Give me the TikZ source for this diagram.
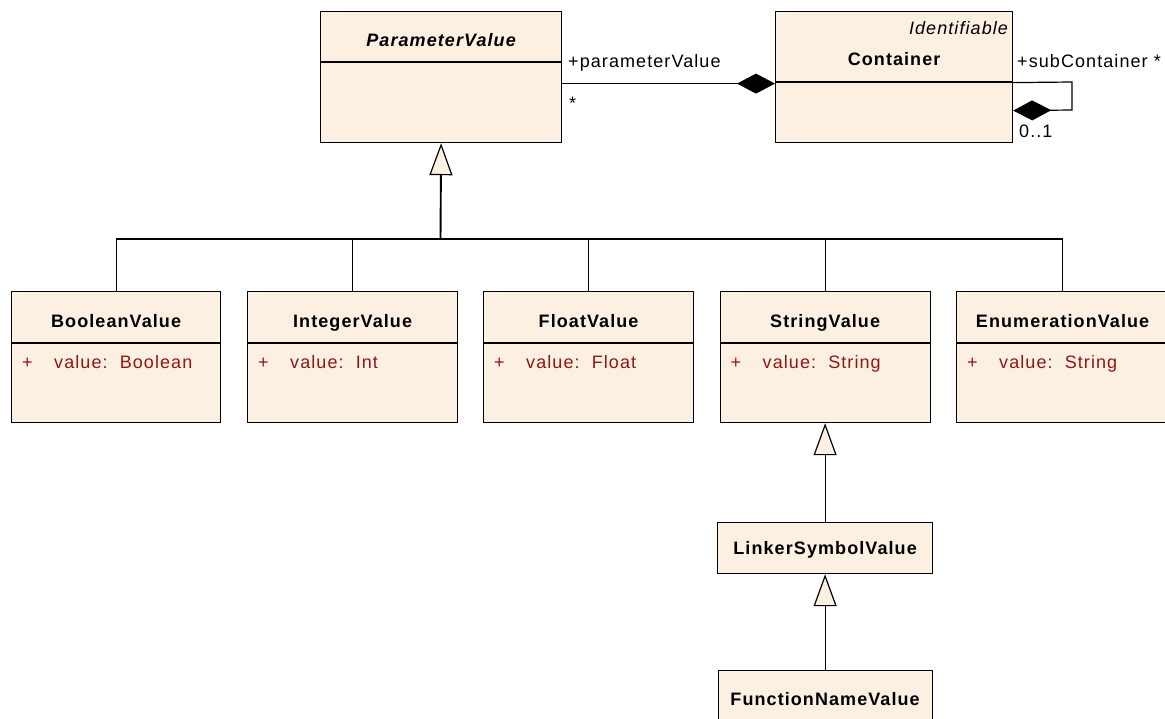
\documentclass[tikz,border=0pt]{standalone}
\usepackage{fontspec}
\setmainfont{Liberation Sans}[LetterSpace=6]
\usetikzlibrary{arrows.meta}
\definecolor{umlfill}{RGB}{251,240,226}
\definecolor{attrred}{RGB}{145,22,22}
\tikzset{
  cls/.style={draw=black, line width=1.2pt, fill=umlfill, rectangle, inner sep=0pt, anchor=north west},
  ctitle/.style={font=\fontsize{18}{21}\selectfont\bfseries, inner sep=0pt, text height=13pt, text depth=0pt},
  lbl/.style={font=\fontsize{18}{21}\selectfont, inner sep=0pt, text height=13pt, text depth=0pt},
  attr/.style={font=\fontsize{18}{21}\selectfont, text=attrred, inner sep=0pt, anchor=west, text height=13pt, text depth=0pt},
  conn/.style={draw=black, line width=1.2pt},
  gen/.style={conn, -{Triangle[length=32pt, width=23pt, fill=umlfill, line width=1.2pt]}},
  comp/.style={conn, -{Diamond[length=38pt, width=20pt]}},
}
\newcommand{\attrline}[1]{\makebox[32pt][l]{+}#1}
\begin{document}
\begin{tikzpicture}[x=1pt, y=-1pt]
\useasboundingbox (0,0) rectangle (1165,718);

% ParameterValue
\node[cls, minimum width=241pt, minimum height=131pt] (pv) at (320,11) {};
\node[ctitle, font=\fontsize{18}{21}\selectfont\bfseries\itshape] (pvT) at ([yshift=-29pt]pv.north) {ParameterValue};
\draw[conn] ([yshift=-51pt]pv.north west) -- ([yshift=-51pt]pv.north east);

% Container
\node[cls, minimum width=237pt, minimum height=131pt] (cont) at (775,11) {};
\node[lbl, font=\fontsize{18}{21}\selectfont\itshape, anchor=east] (contS) at ([xshift=-5pt,yshift=-17pt]cont.north east) {Identifiable};
\node[ctitle] (contT) at ([yshift=-48pt]cont.north) {Container};
\draw[conn] ([yshift=-71pt]cont.north west) -- ([yshift=-71pt]cont.north east);

% Children
\node[cls, minimum width=209pt, minimum height=131pt] (bool) at (11,291) {};
\node[cls, minimum width=210pt, minimum height=131pt] (int) at (247,291) {};
\node[cls, minimum width=210pt, minimum height=131pt] (flt) at (483,291) {};
\node[cls, minimum width=210pt, minimum height=131pt] (str) at (719.5,291) {};
\node[cls, minimum width=212pt, minimum height=131pt] (enum) at (956,291) {};

\foreach \n/\t/\a in {bool/BooleanValue/Boolean, int/IntegerValue/Int, flt/FloatValue/Float, str/StringValue/String, enum/EnumerationValue/String}{
  \node[ctitle] (\n T) at ([yshift=-30pt]\n.north) {\t};
  \draw[conn] ([yshift=-52pt]\n.north west) -- ([yshift=-52pt]\n.north east);
  \node[attr] (\n A) at ([xshift=11pt,yshift=-71pt]\n.north west) {\attrline{value:\ \ \a}};
}

% LinkerSymbolValue and FunctionNameValue
\node[cls, minimum width=215pt, minimum height=51pt] (lsv) at (717,522) {};
\node[ctitle] (lsvT) at (lsv.center) {LinkerSymbolValue};
\node[cls, minimum width=214pt, minimum height=60pt] (fnv) at (717.5,670) {};
\node[ctitle] (fnvT) at ([yshift=-29pt]fnv.north) {FunctionNameValue};

% generalization bus
\coordinate (bus) at (440.5,239);
\foreach \n in {bool,int,flt,str,enum}{
  \draw[conn] (\n.north) |- (bus);
}
\draw[gen, line width=1.9pt] (bus) -- (pv.south);
\draw[gen] (lsv.north) -- (str.south);
\draw[gen] (fnv.north) -- (lsv.south);

% composition
\draw[comp] ([yshift=-6.5pt]pv.east) -- ([yshift=-6.5pt]cont.west);
\node[lbl, anchor=west] (pvRole) at (568,61) {+parameterValue};
\node[lbl, anchor=west] (pvMult) at (569,103) {*};

% self association
\coordinate (loopA) at (1072,82);
\coordinate (loopB) at (1072,110);
\draw[comp] ([yshift=-5.5pt]cont.east) -- (loopA) -- (loopB) -- ([yshift=-33.5pt]cont.east);
\node[lbl, anchor=west] (subRole) at (1017,61) {+subContainer *};
\node[lbl, anchor=west] (subMult) at (1019,131) {0..1};
\end{tikzpicture}
\end{document}
